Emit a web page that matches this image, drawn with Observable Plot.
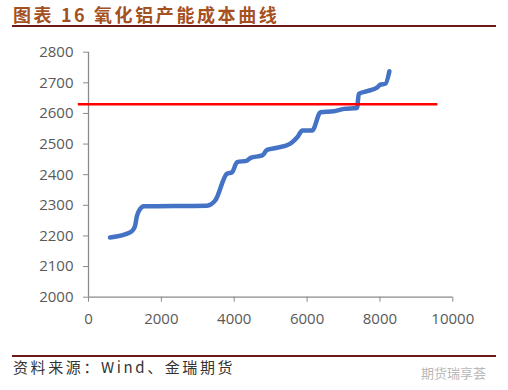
<!DOCTYPE html>
<html><head><meta charset="utf-8">
<script src="https://cdn.jsdelivr.net/npm/d3@7"></script>
<script src="https://cdn.jsdelivr.net/npm/@observablehq/plot@0.6"></script>
<style>
body{margin:0;background:#fff;}
#wrap{position:relative;width:508px;height:390px;overflow:hidden;background:#fff;font-family:"Noto Sans CJK SC",sans-serif;}
#title{position:absolute;left:13px;top:1px;font-size:18px;font-weight:bold;color:#A4501F;letter-spacing:2.6px;white-space:nowrap;}
.rule{position:absolute;left:12px;width:484px;height:2px;background:#6B1A1A;}
#caption{position:absolute;left:13px;top:356px;font-size:15px;color:#333;letter-spacing:2.6px;white-space:nowrap;}
#wm{position:absolute;left:421px;top:363px;font-size:13px;color:#b8b8b8;white-space:nowrap;}
#chart{position:absolute;left:0;top:0;}
</style></head>
<body><div id="wrap">
<div id="chart"></div>
<div id="title">图表 16 氧化铝产能成本曲线</div>
<div class="rule" style="top:25px"></div>
<div class="rule" style="top:355px"></div>
<div id="caption">资料来源：Wind、金瑞期货</div>
<div id="wm">期货瑞享荟</div>
</div>
<script>
const capacity = [590, 1150, 1270, 1330, 1400, 1520, 3250, 3480, 3800, 3940, 4080, 4350, 4450, 4770, 4900, 5180, 5500, 5590, 5730, 5870, 6140, 6370, 6730, 7010, 7370, 7420, 7650, 7920, 8010, 8150, 8260];
const cost = [2195, 2212, 2230, 2265, 2285, 2297, 2299, 2316, 2403, 2408, 2441, 2446, 2455, 2463, 2481, 2488, 2499, 2506, 2522, 2544, 2544, 2604, 2607, 2615, 2618, 2664, 2673, 2684, 2694, 2697, 2738];
const priceLine = 2630;
const priceLineX = [-280, 9590];
const xTicks = [0, 2000, 4000, 6000, 8000, 10000];
const yTicks = [2000, 2100, 2200, 2300, 2400, 2500, 2600, 2700, 2800];

const curve = capacity.map((x, i) => ({x, y: cost[i]}));
const axisColor = "#8a8a8a";
const textColor = "#595959";

const plot = Plot.plot({
  width: 508,
  height: 390,
  marginTop: 51.7,
  marginBottom: 93.3,
  marginLeft: 88,
  marginRight: 55.7,
  style: {fontFamily: "'Open Sans', sans-serif", fontSize: "15px", color: textColor, background: "transparent"},
  x: {domain: [0, 10000], ticks: xTicks, tickFormat: d => String(d), label: null},
  y: {domain: [2000, 2800], ticks: yTicks, tickFormat: d => String(d), label: null},
  marks: [
    Plot.axisX({ticks: xTicks, tickFormat: d => String(d), tickSize: 5, tickPadding: 11, stroke: axisColor, fill: textColor, label: null}),
    Plot.axisY({ticks: yTicks, tickFormat: d => String(d), tickSize: 5, tickPadding: 10, stroke: axisColor, fill: textColor, label: null}),
    Plot.ruleY([2000], {stroke: axisColor, strokeWidth: 1.3}),
    Plot.ruleX([0], {y1: 2000, y2: 2800, stroke: axisColor, strokeWidth: 1.3}),
    Plot.line(curve, {x: "x", y: "y", stroke: "#4472C4", strokeWidth: 4.5, curve: "monotone-x", strokeLinejoin: "round", strokeLinecap: "round"}),
    Plot.ruleY([priceLine], {x1: priceLineX[0], x2: priceLineX[1], stroke: "#FF0000", strokeWidth: 2.6})
  ]
});
document.getElementById("chart").appendChild(plot);
</script>
</body></html>
